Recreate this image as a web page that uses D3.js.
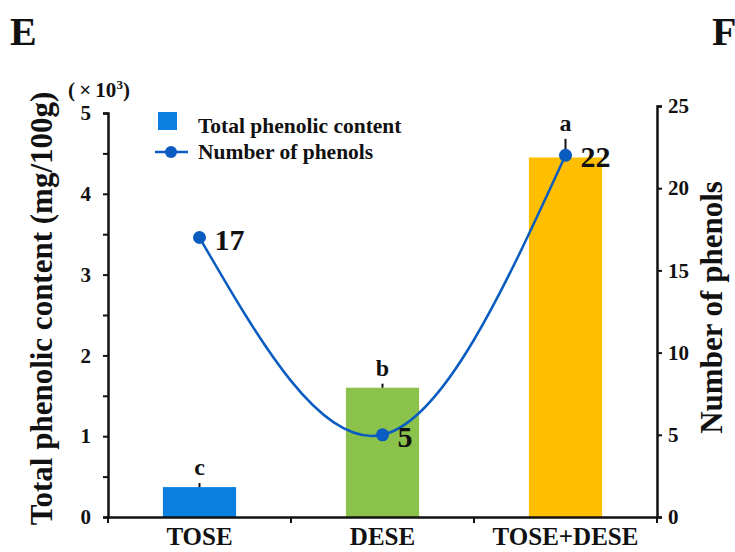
<!DOCTYPE html>
<html>
<head>
<meta charset="utf-8">
<script src="https://cdn.jsdelivr.net/npm/d3@7"></script>
<style>
  body { margin: 0; background: #fff; }
  text { font-family: "Liberation Serif", "Times New Roman", serif; font-weight: bold; fill: #111; }
</style>
</head>
<body>
<div id="chart"></div>
<script>
// Data
const categories = ["TOSE", "DESE", "TOSE+DESE"];
const phenolicContent = [0.37, 1.6, 4.45];   // x10^3 mg/100g
const phenolicError = [0.05, 0.05, 0.23];
const letters = ["c", "b", "a"];
const phenolCount = [17, 5, 22];
const barColors = ["#0a7fe0", "#8bc24c", "#ffbf00"];
const leftTicks = [0, 0.5, 1, 1.5, 2, 2.5, 3, 3.5, 4, 4.5, 5];
const rightTicks = [0, 5, 10, 15, 20, 25];

const width = 735, height = 552;
const margin = { left: 108, right: 78, bottom: 35 };
const x0 = margin.left, x1 = width - margin.right, y0 = height - margin.bottom;

const svg = d3.select("#chart").append("svg")
    .attr("width", width)
    .attr("height", height);

// Scales
const xScale = d3.scaleBand().domain(categories).range([x0, x1]).padding(0);
const yLeft = d3.scaleLinear().domain([0, 5]).range([y0, 113]);
const yRight = d3.scaleLinear().domain([0, 25]).range([y0, 106]);
const barW = xScale.bandwidth() * 0.4;
const cx = d => xScale(d) + xScale.bandwidth() / 2;

// Bars
svg.selectAll(".bar")
    .data(categories)
    .enter().append("rect")
    .attr("class", "bar")
    .attr("x", d => cx(d) - barW / 2)
    .attr("y", (d, i) => yLeft(phenolicContent[i]))
    .attr("width", barW)
    .attr("height", (d, i) => y0 - yLeft(phenolicContent[i]))
    .attr("fill", (d, i) => barColors[i]);

// Error bars (upper only)
svg.selectAll(".err")
    .data(categories)
    .enter().append("line")
    .attr("x1", d => cx(d)).attr("x2", d => cx(d))
    .attr("y1", (d, i) => yLeft(phenolicContent[i]))
    .attr("y2", (d, i) => yLeft(phenolicContent[i] + phenolicError[i]))
    .attr("stroke", "#111").attr("stroke-width", 2);

// Significance letters
svg.selectAll(".letter")
    .data(categories)
    .enter().append("text")
    .attr("x", d => cx(d))
    .attr("y", (d, i) => yLeft(phenolicContent[i] + phenolicError[i]) - 8)
    .attr("text-anchor", "middle")
    .style("font-size", "24px")
    .text((d, i) => letters[i]);

// Left axis
const leftAxis = svg.append("g")
    .attr("transform", `translate(${x0},0)`)
    .call(d3.axisLeft(yLeft).tickValues(leftTicks).tickSize(5)
        .tickFormat(d => Number.isInteger(d) ? d : ""));
// Right axis
const rightAxis = svg.append("g")
    .attr("transform", `translate(${x1},0)`)
    .call(d3.axisRight(yRight).tickValues(rightTicks).tickSize(5));
// Bottom axis
const bottomAxis = svg.append("g")
    .attr("transform", `translate(0,${y0})`)
    .call(d3.axisBottom(xScale).tickSize(0).tickPadding(10));
bottomAxis.selectAll(".tick line").remove();
bottomAxis.selectAll(".boundary")
    .data([x0, xScale("DESE"), xScale("TOSE+DESE"), x1])
    .enter().append("line")
    .attr("x1", d => d).attr("x2", d => d)
    .attr("y1", 0).attr("y2", 6)
    .attr("stroke", "#111").attr("stroke-width", 2);

[leftAxis, rightAxis, bottomAxis].forEach(g => {
    g.select(".domain").attr("stroke", "#111").attr("stroke-width", 2.5);
    g.selectAll(".tick line").attr("stroke", "#111").attr("stroke-width", 2);
    g.selectAll("text").attr("fill", "#111");
});
leftAxis.selectAll("text").style("font-size", "21px").attr("dx", "-9");
rightAxis.selectAll("text").style("font-size", "21px").attr("dx", "3");
bottomAxis.selectAll("text").style("font-size", "25px");

// Line (smoothed)
const pts = categories.map((c, i) => [cx(c), yRight(phenolCount[i])]);
svg.append("path")
    .attr("d", d3.line().curve(d3.curveNatural)(pts))
    .attr("fill", "none")
    .attr("stroke", "#0a5cc0")
    .attr("stroke-width", 2.5);
svg.selectAll(".pt")
    .data(pts)
    .enter().append("circle")
    .attr("cx", d => d[0]).attr("cy", d => d[1])
    .attr("r", 6.5).attr("fill", "#0a5cc0");
svg.selectAll(".ptlabel")
    .data(pts)
    .enter().append("text")
    .attr("x", d => d[0] + 15)
    .attr("y", d => d[1] + 12)
    .style("font-size", "30px")
    .text((d, i) => phenolCount[i]);

// Legend
const legend = svg.append("g");
legend.append("rect")
    .attr("x", 158).attr("y", 112).attr("width", 19).attr("height", 18)
    .attr("fill", barColors[0]);
legend.append("text").attr("x", 198).attr("y", 133)
    .style("font-size", "21.5px").text("Total phenolic content");
legend.append("line")
    .attr("x1", 155).attr("x2", 188).attr("y1", 152).attr("y2", 152)
    .attr("stroke", "#0a5cc0").attr("stroke-width", 2.5);
legend.append("circle").attr("cx", 171).attr("cy", 152).attr("r", 6).attr("fill", "#0a5cc0");
legend.append("text").attr("x", 198).attr("y", 159)
    .style("font-size", "21.5px").text("Number of phenols");

// Axis titles and panel letters
svg.append("text")
    .attr("transform", `translate(52,${(95 + 522) / 2}) rotate(-90)`)
    .attr("text-anchor", "middle")
    .style("font-size", "31px")
    .text("Total phenolic content (mg/100g)");
svg.append("text")
    .attr("transform", `translate(722,${(180 + 435) / 2}) rotate(-90)`)
    .attr("text-anchor", "middle")
    .style("font-size", "31px")
    .text("Number of phenols");
const unit = svg.append("text")
    .attr("x", 68).attr("y", 97)
    .style("font-size", "21px");
unit.append("tspan").text("(\u2009×\u200910");
unit.append("tspan").attr("dy", -8).style("font-size", "13px").text("3");
unit.append("tspan").attr("dy", 8).text(")");
svg.append("text").attr("x", 10).attr("y", 45).style("font-size", "40px").text("E");
svg.append("text").attr("x", 712).attr("y", 45).style("font-size", "40px").text("F");
</script>
</body>
</html>
